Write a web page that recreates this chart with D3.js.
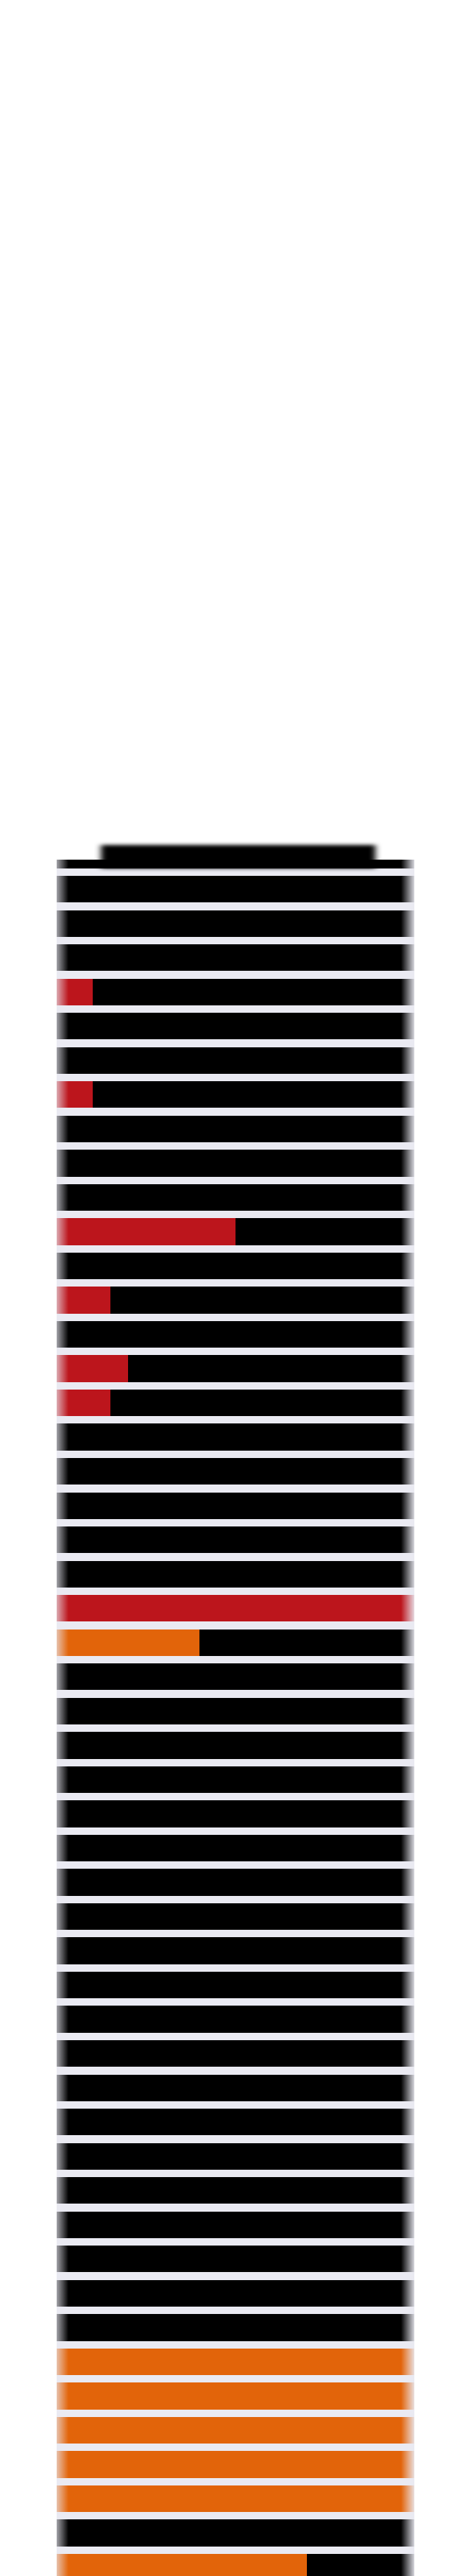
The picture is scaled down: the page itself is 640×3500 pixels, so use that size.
<!DOCTYPE html>
<html>
<head>
<meta charset="utf-8">
<script src="https://cdn.jsdelivr.net/npm/d3@7"></script>
<style>
  html, body { margin: 0; padding: 0; background: #ffffff; }
  svg { display: block; }
</style>
</head>
<body>
<script>
// ---- data (shares in percent, one entry per row, top to bottom) ----
const categories = d3.range(51).map(i => "Row " + (i + 1));
const redShare = [
  0, 0, 0, 0, 10, 0, 0, 10, 0, 0,
  0, 50, 0, 15, 0, 20, 15, 0, 0, 0,
  0, 0, 100, 0, 0, 0, 0, 0, 0, 0,
  0, 0, 0, 0, 0, 0, 0, 0, 0, 0,
  0, 0, 0, 0, 0, 0, 0, 0, 0, 0,
  0
];
const orangeShare = [
  0, 0, 0, 0, 0, 0, 0, 0, 0, 0,
  0, 0, 0, 0, 0, 0, 0, 0, 0, 0,
  0, 0, 0, 40, 0, 0, 0, 0, 0, 0,
  0, 0, 0, 0, 0, 0, 0, 0, 0, 0,
  0, 0, 0, 0, 100, 100, 100, 100, 100, 0,
  70
];
const xTicks = [0, 25, 50, 75, 100];
const seriesKeys = ["red", "orange", "black"];
const seriesColors = { red: "#bc151c", orange: "#e2640a", black: "#000000" };

// ---- layout ----
const W = 640, H = 3500;
const plotLeft = 77, plotRight = 563;
const plotTop = 1168;
const step = 46.53;
const bandStart = 1190 - step * 1.11;

const table = categories.map((c, i) => ({
  cat: c,
  red: redShare[i],
  orange: orangeShare[i],
  black: 100 - redShare[i] - orangeShare[i]
}));

const x = d3.scaleLinear().domain([0, 100]).range([plotLeft, plotRight]);
const y = d3.scaleBand()
  .domain(categories)
  .range([bandStart, bandStart + step * categories.length])
  .paddingInner(0.22)
  .paddingOuter(0.11);

const stacked = d3.stack().keys(seriesKeys)(table);

const svg = d3.select("body").append("svg")
  .attr("width", W).attr("height", H)
  .attr("viewBox", `0 0 ${W} ${H}`);

const defs = svg.append("defs");
defs.append("clipPath").attr("id", "plotClip")
  .append("rect")
  .attr("x", plotLeft).attr("y", plotTop)
  .attr("width", plotRight - plotLeft).attr("height", H - plotTop);

const grad = defs.append("linearGradient").attr("id", "edgeFade")
  .attr("gradientUnits", "userSpaceOnUse")
  .attr("x1", plotLeft).attr("x2", plotRight).attr("y1", 0).attr("y2", 0);
const fw = plotRight - plotLeft;
[[0, 0.3], [16 / fw, 1], [1 - 18 / fw, 1], [1, 0.08]].forEach(([o, v]) => {
  grad.append("stop").attr("offset", o).attr("stop-color", "#fff").attr("stop-opacity", v);
});
defs.append("mask").attr("id", "fadeMask")
  .attr("maskUnits", "userSpaceOnUse")
  .attr("x", 0).attr("y", 0).attr("width", W).attr("height", H)
  .append("rect").attr("x", plotLeft).attr("y", 0)
  .attr("width", fw).attr("height", H).attr("fill", "url(#edgeFade)");

defs.append("filter").attr("id", "soft")
  .attr("x", "-10%").attr("y", "-50%").attr("width", "120%").attr("height", "200%")
  .append("feGaussianBlur").attr("stdDeviation", "4 2.5");

// plot background
svg.append("rect")
  .attr("x", plotLeft).attr("y", plotTop)
  .attr("width", fw).attr("height", H - plotTop)
  .attr("fill", "#eaeaf2");

// header tab above the first row
const firstBand = y(categories[0]);
svg.append("rect")
  .attr("x", x(12.4)).attr("y", plotTop - 20)
  .attr("width", x(89.1) - x(12.4))
  .attr("height", firstBand + y.bandwidth() - (plotTop - 20))
  .attr("fill", "#000")
  .attr("filter", "url(#soft)");

// stacked bars
const g = svg.append("g")
  .attr("clip-path", "url(#plotClip)")
  .append("g")
  .attr("mask", "url(#fadeMask)");

g.selectAll("g.series")
  .data(stacked)
  .join("g")
  .attr("class", "series")
  .attr("fill", d => seriesColors[d.key])
  .selectAll("rect")
  .data(d => d.filter(p => p[1] > p[0]))
  .join("rect")
  .attr("x", d => x(d[0]))
  .attr("y", d => y(d.data.cat))
  .attr("width", d => x(d[1]) - x(d[0]))
  .attr("height", y.bandwidth())
  .attr("shape-rendering", "crispEdges");

// cover white above the plot so the first row is clipped cleanly
</script>
</body>
</html>
